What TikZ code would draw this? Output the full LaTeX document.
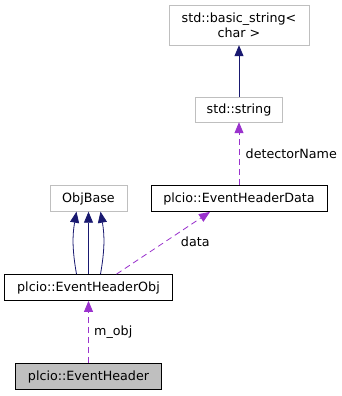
\documentclass[tikz,border=0pt]{standalone}
\usepackage{fontspec}
\setmainfont{DejaVu Sans}
\usetikzlibrary{arrows.meta, positioning}

\definecolor{edgeblue}{HTML}{191970}
\definecolor{edgepurple}{HTML}{9A32CD}
\definecolor{boxgray}{HTML}{BFBFBF}

\tikzset{
  cls/.style={draw=boxgray, fill=white, minimum height=26pt, inner xsep=6pt,
    font=\fontsize{12.7}{15}\selectfont, align=center},
  doc/.style={cls, draw=black, thick},
  cur/.style={doc, fill=boxgray},
  inherit/.style={edgeblue, thick, -{Triangle[length=11pt, width=9pt]}},
  usage/.style={edgepurple, thick, dashed, dash pattern=on 6pt off 4pt,
    -{Triangle[length=11pt, width=9pt]}},
  lbl/.style={font=\fontsize{12.7}{15}\selectfont, text=black}
}

\begin{document}
\begin{tikzpicture}[x=1pt, y=-1pt, node distance=89pt, on grid]
    \useasboundingbox (0,0) rectangle (342,396);
    % Define the nodes
    \node[cls, minimum width=140pt, minimum height=40pt] (bstr) at (239,25) {std::basic\_string<\\char >};
    \node[cls, minimum width=87pt, minimum height=25pt] (str) [below=84.5pt of bstr] {std::string};
    \node[doc, minimum width=176pt] (ehd) [below=of str] {plcio::EventHeaderData};
    \node[cls, minimum width=77pt] (ob) [left=150.5pt of ehd] {ObjBase};
    \node[doc, minimum width=168pt] (eho) [below=of ob] {plcio::EventHeaderObj};
    \node[cur, minimum width=146pt] (eh) [below=of eho] {plcio::EventHeader};
    % Define the edges
    \draw[inherit] (str) -- (bstr);
    \draw[inherit] (eho.north -| ob) -- (ob);
    \draw[inherit] ([xshift=-12pt]eho.north -| ob) to[out=100, in=-100] ([xshift=-12pt]ob.south);
    \draw[inherit] ([xshift=12pt]eho.north -| ob) to[out=80, in=-80] ([xshift=12pt]ob.south);
    \draw[usage] (ehd) -- node[lbl, anchor=west, xshift=3pt] {detectorName} (str);
    \draw[usage] ([xshift=28pt]eho.north -| ob) -- node[lbl, anchor=west, xshift=14pt, yshift=1pt] {data} ([xshift=-29pt]ehd.south);
    \draw[usage] (eh) -- node[lbl, anchor=west, xshift=2pt] {m\_obj} (eho);
\end{tikzpicture}
\end{document}
